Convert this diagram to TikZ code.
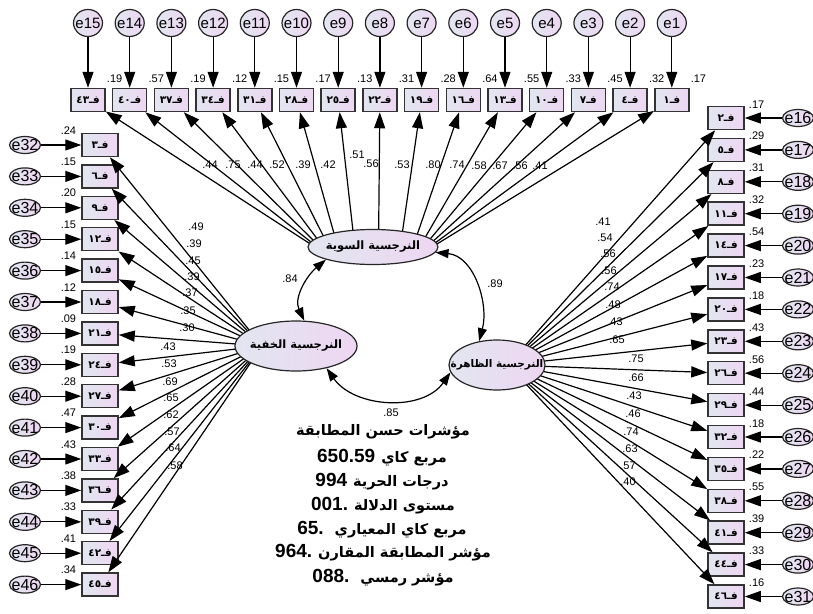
\documentclass[tikz,border=0pt]{standalone}
\usepackage{fontspec}
\setmainfont{Liberation Sans}
\newfontfamily\arabicfont[Script=Arabic]{DejaVu Sans}
\TeXXeTstate=1
\usetikzlibrary{shapes.geometric,arrows.meta,calc}
\definecolor{boxL}{RGB}{226,230,240}
\definecolor{boxR}{RGB}{238,214,242}
\newcommand{\boxlab}[1]{{\arabicfont\bfseries\fontsize{10.5}{11}\selectfont\mbox{#1}\mbox{فـ}}}
\newcommand{\latlab}[2][11.5]{\makebox[0pt][c]{\arabicfont\bfseries\fontsize{#1}{13}\selectfont\beginR #2\endR}}
\newcommand{\artx}[1]{{\arabicfont\bfseries\fontsize{14.5}{15}\selectfont #1}}
\newcommand{\fnum}[1]{{\bfseries\fontsize{19}{19}\selectfont #1}}
\begin{document}
\begin{tikzpicture}[x=1pt,y=-1pt,
  obs/.style={draw=black!80,line width=1.5pt,left color=boxL,right color=boxR,minimum width=36pt,minimum height=23pt,inner sep=0pt},
  topobs/.style={obs,minimum width=34pt},
  errs/.style={ellipse,draw=black!85,line width=1.2pt,left color=boxL,right color=boxR,minimum width=31pt,minimum height=17pt,inner sep=0pt,font=\fontsize{16}{16}\selectfont},
  errt/.style={errs,minimum width=29pt,minimum height=27pt,font=\fontsize{15}{15}\selectfont},
  lat/.style={ellipse,draw=black!85,line width=1.2pt,left color=boxL,right color=boxR,inner sep=0pt},
  arr/.style={-{Triangle[length=16pt,width=11pt]},line width=1.2pt},
  cov/.style={{Triangle[length=13pt,width=9pt]}-{Triangle[length=13pt,width=9pt]},line width=1.2pt},
  num/.style={inner sep=0pt,font=\fontsize{11}{11}\selectfont},
  fittx/.style={inner sep=0pt,font=\bfseries},
]
\fill[white] (0,0) rectangle (813,613);
\useasboundingbox (0,0) rectangle (813,613);
\coordinate (Sc) at (373,247);
\coordinate (FH) at (262,346);
\coordinate (FZ) at (508,365);

% top indicators
\foreach \lab/\err/\var [count=\i from 0] in {٤٣/15/.19,٤٠/14/.57,٣٧/13/.19,٣٤/12/.12,٣١/11/.15,٢٨/10/.17,٢٥/9/.13,٢٢/8/.31,١٩/7/.28,١٦/6/.64,١٣/5/.55,١٠/4/.33,٧/3/.45,٤/2/.32,١/1/.17}{
  \node[topobs] (T\i) at ({88+41.7*\i},100) {\boxlab{\lab}};
  \node[errt] (ET\i) at ({88+41.7*\i},23) {\makebox[0pt]{e\err}};
  \draw[arr] (ET\i) -- (T\i);
  \node[num,anchor=west] (VT\i) at ($(T\i.north east)+(1,-9)$) {\var};
}
% left indicators
\foreach \lab/\err/\var [count=\i from 0] in {٣/32/.24,٦/33/.15,٩/34/.20,١٢/35/.15,١٥/36/.14,١٨/37/.12,٢١/38/.09,٢٤/39/.19,٢٧/40/.28,٣٠/41/.47,٣٣/42/.43,٣٦/43/.38,٣٩/44/.33,٤٢/45/.41,٤٥/46/.34}{
  \node[obs] (L\i) at (100,{145+31.4*\i}) {\boxlab{\lab}};
  \node[errs] (EL\i) at (25,{145+31.4*\i}) {\makebox[0pt]{e\err}};
  \draw[arr] (EL\i) -- (L\i);
  \node[num,anchor=east] (VL\i) at ($(L\i.north west)+(-5,-2.5)$) {\var};
}
% right indicators
\foreach \lab/\err/\var [count=\i from 0] in {٢/16/.17,٥/17/.29,٨/18/.31,١١/19/.32,١٤/20/.54,١٧/21/.23,٢٠/22/.18,٢٣/23/.43,٢٦/24/.56,٢٩/25/.44,٣٢/26/.18,٣٥/27/.22,٣٨/28/.55,٤١/29/.39,٤٤/30/.33,٤٦/31/.16}{
  \node[obs] (R\i) at (726,{118+31.9*\i}) {\boxlab{\lab}};
  \node[errs] (ER\i) at (798,{118+31.9*\i}) {\makebox[0pt]{e\err}};
  \draw[arr] (ER\i) -- (R\i);
  \node[num,anchor=west] (VR\i) at ($(R\i.north east)+(4,-1.5)$) {\var};
}

% loadings
\foreach \tang/\val/\lx/\ly [count=\i from 0] in {168/.44/210/165,163/.75/233/165,157/.44/255/165,150/.52/277/165,140/.39/303/165,127/.42/328/165,108/.51/357/155,85/.56/371/164,63/.53/402/165,47/.80/433/165,36/.74/457/165,28/.58/479/166,21/.67/500/166,15/.56/520/166,10/.41/540/166}{
  \draw[arr] ($(Sc)+(\tang:65pt and 17.5pt)$) -- (T\i);
  \node[num] (LT\i) at (\lx,\ly) {\val};
}
\foreach \val/\lx/\ly [count=\i from 0] in {.49/196/227,.39/194/244,.45/193/261,.39/192/277,.37/190/293,.35/188/311,.30/187/328,.43/168/347,.53/169/364,.69/170/382,.65/171/398,.62/171/415,.57/172/432,.64/173/448,.58/175/466}{
  \draw[arr] (FH) -- (L\i);
  \node[num] (LL\i) at (\lx,\ly) {\val};
}
\foreach \val/\lx/\ly [count=\i from 0] in {.41/603/222,.54/605/238,.56/608/254,.56/609/271,.74/612/287,.48/613/305,.43/615/322,.65/617/340,.75/636/359,.66/636/378,.43/634/396,.46/633/414,.74/631/432,.63/630/449,.57/628/466,.40/628/482}{
  \draw[arr] (FZ) -- (R\i);
  \node[num] (LR\i) at (\lx,\ly) {\val};
}

% latent variables
\node[lat,minimum width=130pt,minimum height=35pt] (S) at (Sc) {\latlab{النرجسية السوية}};
\node[lat,minimum width=122pt,minimum height=50pt] (H) at (296,346) {\latlab{النرجسية الخفية}};
\node[lat,minimum width=96pt,minimum height=50pt] (Z) at (497,365) {\latlab[10.5]{النرجسية الظاهرة}};

% covariances
\draw[cov] (S.195) to[out=220,in=115] (H.72);
\draw[cov] (S.355) to[out=-5,in=75] (Z.127);
\draw[cov] (H.324) to[out=-55,in=235] (Z.189);
\node[num] (C1) at (290,279) {.84};
\node[num] (C2) at (495,284) {.89};
\node[num] (C3) at (391,413) {.85};

% fit indices
\node[fittx] (F1) at (383,432) {\beginR\artx{مؤشرات حسن المطابقة}\endR};
\node[fittx] (F2) at (382,458) {\beginR\artx{مربع كاي}\hspace{6pt}\fnum{650.59}\endR};
\node[fittx] (F3) at (382,482) {\beginR\artx{درجات الحرية}\hspace{6pt}\fnum{994}\endR};
\node[fittx] (F4) at (383,506) {\beginR\artx{مستوى الدلالة}\hspace{6pt}\fnum{001.}\endR};
\node[fittx] (F5) at (382,530) {\beginR\artx{مربع كاي المعياري}\hspace{11pt}\fnum{65.}\endR};
\node[fittx] (F6) at (383,553) {\beginR\artx{مؤشر المطابقة المقارن}\hspace{6pt}\fnum{964.}\endR};
\node[fittx] (F7) at (383,578) {\beginR\artx{مؤشر رمسي}\hspace{11pt}\fnum{088.}\endR};
\end{tikzpicture}
\end{document}
